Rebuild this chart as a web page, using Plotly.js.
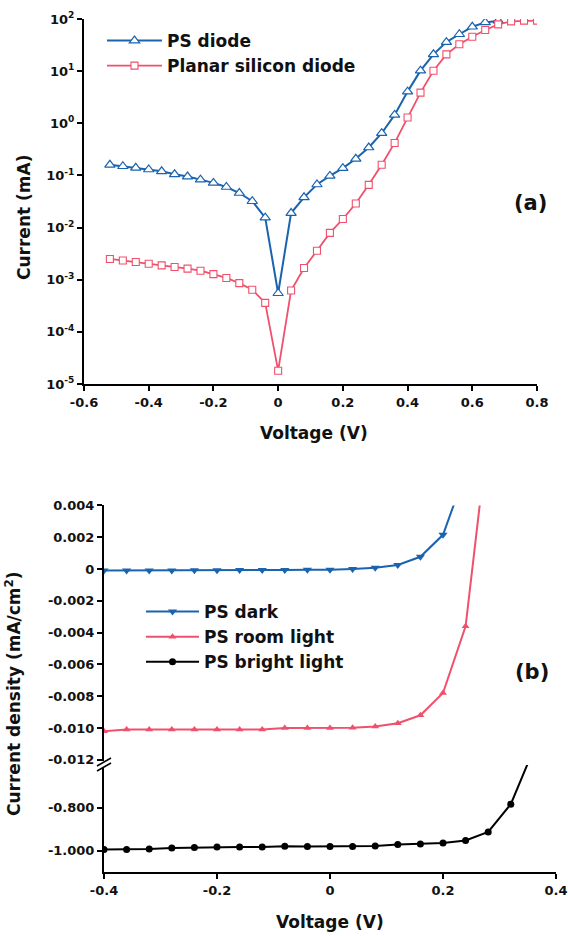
<!DOCTYPE html>
<html>
<head>
<meta charset="utf-8">
<script src="https://cdn.plot.ly/plotly-3.0.1.min.js"></script>
<style>html,body{margin:0;padding:0;background:#fff}#chart{width:568px;height:936px}</style>
</head>
<body>
<div id="chart"></div>
<script>
// ---------- Panel (a) data ----------
const voltagePS = [-0.52,-0.48,-0.44,-0.40,-0.36,-0.32,-0.28,-0.24,-0.20,-0.16,-0.12,-0.08,-0.04,0,
  0.04,0.08,0.12,0.16,0.20,0.24,0.28,0.32,0.36,0.40,0.44,0.48,0.52,0.56,0.60,0.64,0.68];
const currentPS = [0.16,0.15,0.14,0.13,0.12,0.105,0.095,0.083,0.072,0.06,0.046,0.032,0.0155,0.00055,
  0.019,0.038,0.067,0.098,0.138,0.208,0.343,0.645,1.45,4.05,10.2,21,36,51,71,86,93];
const voltagePlanar = [-0.52,-0.48,-0.44,-0.40,-0.36,-0.32,-0.28,-0.24,-0.20,-0.16,-0.12,-0.08,-0.04,0,
  0.04,0.08,0.12,0.16,0.20,0.24,0.28,0.32,0.36,0.40,0.44,0.48,0.52,0.56,0.60,0.64,0.68,0.72,0.76,0.80];
const currentPlanar = [0.0025,0.00234,0.00218,0.00203,0.00188,0.00175,0.00163,0.00149,0.00128,0.00108,0.00086,0.00064,0.00036,0.000018,
  0.00062,0.00168,0.0036,0.0079,0.0146,0.029,0.066,0.16,0.42,1.29,3.87,10.2,21,32.7,45.8,61.5,79,90,93,93];
const logTickVals = [1e-5,1e-4,1e-3,1e-2,1e-1,1,10,100];
const logTickText = ['10<sup>-5</sup>','10<sup>-4</sup>','10<sup>-3</sup>','10<sup>-2</sup>','10<sup>-1</sup>','10<sup>0</sup>','10<sup>1</sup>','10<sup>2</sup>'];
const xTicksA = [-0.6,-0.4,-0.2,0,0.2,0.4,0.6,0.8];
const xTickTextA = ['-0.6','-0.4','-0.2','0','0.2','0.4','0.6','0.8'];

// ---------- Panel (b) data ----------
const voltageDark = [-0.40,-0.36,-0.32,-0.28,-0.24,-0.20,-0.16,-0.12,-0.08,-0.04,0,0.04,0.08,0.12,0.16,0.20,0.24];
const densityDark = [-0.0001,-0.0001,-0.00009,-0.00009,-0.00008,-0.00008,-0.00007,-0.00007,-0.00006,-0.00005,-0.00005,0.0,0.00008,0.00025,0.00077,0.00215,0.0061];
const voltageRoom = [-0.40,-0.36,-0.32,-0.28,-0.24,-0.20,-0.16,-0.12,-0.08,-0.04,0,0.04,0.08,0.12,0.16,0.20,0.24,0.28];
const densityRoom = [-0.0102,-0.0101,-0.0101,-0.0101,-0.0101,-0.0101,-0.0101,-0.0101,-0.0100,-0.0100,-0.0100,-0.00998,-0.0099,-0.0097,-0.0092,-0.0078,-0.0036,0.0086];
const voltageBright = [-0.40,-0.36,-0.32,-0.28,-0.24,-0.20,-0.16,-0.12,-0.08,-0.04,0,0.04,0.08,0.12,0.16,0.20,0.24,0.28,0.32,0.36];
const densityBright = [-0.995,-0.995,-0.992,-0.988,-0.986,-0.983,-0.983,-0.983,-0.98,-0.981,-0.981,-0.981,-0.978,-0.972,-0.969,-0.965,-0.953,-0.913,-0.783,-0.53];
const yTicksUpper = [0.004,0.002,0,-0.002,-0.004,-0.006,-0.008,-0.010,-0.012];
const yTickTextUpper = ['0.004','0.002','0','-0.002','-0.004','-0.006','-0.008','-0.010','-0.012'];
const yTicksLower = [-0.8,-1.0];
const yTickTextLower = ['-0.800','-1.000'];
const xTicksB = [-0.4,-0.2,0,0.2,0.4];
const xTickTextB = ['-0.4','-0.2','0','0.2','0.4'];

const BLUE = '#1a63ae', RED = '#f0506c', BLACK = '#000000';
const FAM = 'DejaVu Sans, Arial, sans-serif';
const W = 568, H = 936;
const px = v => v / W, py = v => 1 - v / H;

const traces = [
  {x: voltagePS, y: currentPS, name: 'PS diode', type: 'scatter', mode: 'lines+markers',
   xaxis: 'x', yaxis: 'y', legend: 'legend',
   line: {color: BLUE, width: 2},
   marker: {symbol: 'triangle-up', size: 9, color: '#ffffff', line: {color: BLUE, width: 1.2}}},
  {x: voltagePlanar, y: currentPlanar, name: 'Planar silicon diode', type: 'scatter', mode: 'lines+markers',
   xaxis: 'x', yaxis: 'y', legend: 'legend',
   line: {color: RED, width: 1.8},
   marker: {symbol: 'square', size: 7, color: '#ffffff', line: {color: RED, width: 1.1}}},
  {x: voltageDark, y: densityDark, name: 'PS dark', type: 'scatter', mode: 'lines+markers',
   xaxis: 'x2', yaxis: 'y2', legend: 'legend2',
   line: {color: BLUE, width: 2},
   marker: {symbol: 'triangle-down', size: 8, color: BLUE}},
  {x: voltageRoom, y: densityRoom, name: 'PS room light', type: 'scatter', mode: 'lines+markers',
   xaxis: 'x2', yaxis: 'y2', legend: 'legend2',
   line: {color: RED, width: 2},
   marker: {symbol: 'triangle-up', size: 7, color: RED}},
  {x: voltageBright, y: densityBright, name: 'PS bright light', type: 'scatter', mode: 'lines+markers',
   xaxis: 'x2', yaxis: 'y3', legend: 'legend2',
   line: {color: BLACK, width: 2},
   marker: {symbol: 'circle', size: 7, color: BLACK}}
];

const tickFont = {family: FAM, size: 13, color: '#111', weight: 'bold'};
const axisCommon = {showgrid: false, zeroline: false, showline: true, linecolor: '#000', linewidth: 2,
  ticks: 'outside', ticklen: 5, tickwidth: 2, tickcolor: '#000', tickfont: tickFont, fixedrange: true};
const titleFont = {family: FAM, size: 17, color: '#111', weight: 'bold'};
const panelFont = {family: FAM, size: 21, color: '#111', weight: 'bold'};
const ann = (text, x, y, font, angle) => ({text: text, xref: 'paper', yref: 'paper', x: px(x), y: py(y),
  xanchor: 'center', yanchor: 'middle', textangle: angle || 0, showarrow: false, font: font});

const layout = {
  width: W, height: H, margin: {l: 0, r: 0, t: 0, b: 0},
  paper_bgcolor: '#fff', plot_bgcolor: '#fff', showlegend: true,
  font: {family: FAM, color: '#111'},
  xaxis: Object.assign({}, axisCommon, {domain: [px(84), px(537)], range: [-0.6, 0.8], anchor: 'y',
    tickmode: 'array', tickvals: xTicksA, ticktext: xTickTextA}),
  yaxis: Object.assign({}, axisCommon, {domain: [py(384), py(19)], type: 'log', range: [-5, 2], anchor: 'x',
    tickmode: 'array', tickvals: logTickVals, ticktext: logTickText}),
  xaxis2: Object.assign({}, axisCommon, {domain: [px(104), px(556)], range: [-0.4, 0.4], anchor: 'y3',
    tickmode: 'array', tickvals: xTicksB, ticktext: xTickTextB}),
  yaxis2: Object.assign({}, axisCommon, {domain: [py(763), py(505.4)], range: [-0.0122, 0.004], anchor: 'x2',
    tickmode: 'array', tickvals: yTicksUpper, ticktext: yTickTextUpper}),
  yaxis3: Object.assign({}, axisCommon, {domain: [py(872), py(765)], range: [-1.1, -0.6], anchor: 'x2',
    tickmode: 'array', tickvals: yTicksLower, ticktext: yTickTextLower}),
  legend: {x: px(102), y: py(23), xanchor: 'left', yanchor: 'top', bgcolor: 'rgba(0,0,0,0)',
    font: {family: FAM, size: 17, color: '#111', weight: 'bold'}, itemwidth: 55, tracegroupgap: 0},
  legend2: {x: px(141), y: py(594), xanchor: 'left', yanchor: 'top', bgcolor: 'rgba(0,0,0,0)',
    font: {family: FAM, size: 17, color: '#111', weight: 'bold'}, itemwidth: 53, tracegroupgap: 0},
  annotations: [
    ann('Current (mA)', 24, 218, titleFont, -90),
    ann('Voltage (V)', 314, 433, titleFont),
    ann('(a)', 530, 203, panelFont),
    ann('Current density (mA/cm<sup>2</sup>)', 13, 694, titleFont, -90),
    ann('Voltage (V)', 330, 922, titleFont),
    ann('(b)', 532, 672, panelFont)
  ],
  shapes: [
    {type: 'rect', xref: 'paper', yref: 'paper', x0: px(100), x1: px(108), y0: py(768), y1: py(761),
     line: {width: 0}, fillcolor: '#fff', layer: 'above'},
    {type: 'line', xref: 'paper', yref: 'paper', x0: px(97), y0: py(766), x1: px(111), y1: py(758),
     line: {color: '#000', width: 1.6}, layer: 'above'},
    {type: 'line', xref: 'paper', yref: 'paper', x0: px(97), y0: py(771), x1: px(111), y1: py(763),
     line: {color: '#000', width: 1.6}, layer: 'above'}
  ]
};

Plotly.newPlot('chart', traces, layout, {displayModeBar: false, staticPlot: true});
</script>
</body>
</html>
